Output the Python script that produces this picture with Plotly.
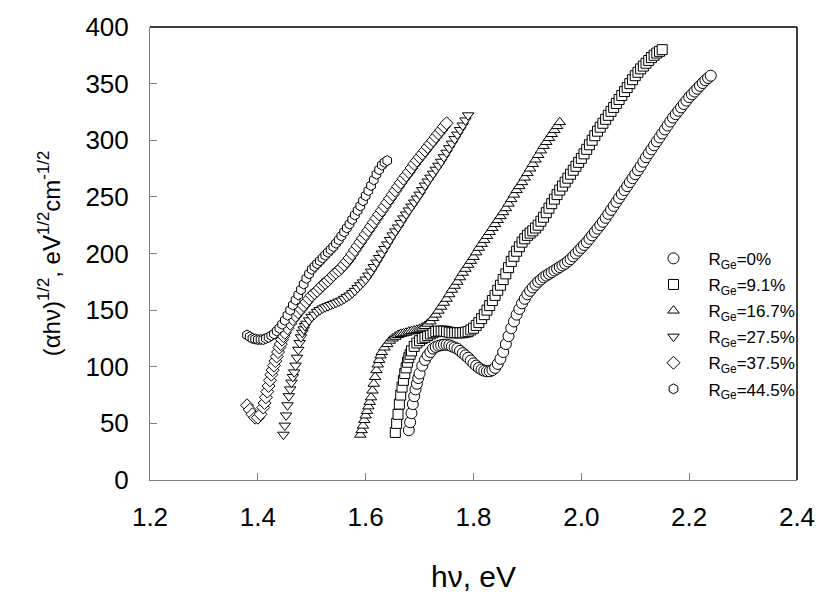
import plotly.graph_objects as go

# ---------------- data (hv in eV, (alpha*hv)^1/2) ----------------
pts_0 = [
    (1.680, 44), (1.6825, 51), (1.685, 59), (1.6875, 67), (1.690, 74), (1.6925, 80), (1.695, 85),
    (1.6975, 90), (1.700, 94), (1.705, 101), (1.710, 106), (1.715, 110), (1.720, 113), (1.725, 116),
    (1.730, 117.5), (1.735, 118.5), (1.740, 119), (1.745, 119.5), (1.750, 119.5), (1.755, 119),
    (1.760, 118), (1.765, 117), (1.770, 116), (1.775, 114), (1.780, 112), (1.785, 110), (1.790, 108),
    (1.795, 105.5), (1.800, 103), (1.805, 101), (1.810, 99), (1.815, 97.5), (1.820, 96.5),
    (1.825, 96), (1.830, 96), (1.835, 97), (1.840, 99), (1.845, 102.5), (1.850, 107), (1.855, 113),
    (1.860, 120), (1.865, 127), (1.870, 134), (1.875, 140), (1.880, 146), (1.885, 151), (1.890, 156),
    (1.895, 160), (1.900, 164), (1.905, 167), (1.910, 170), (1.915, 172.5), (1.920, 175),
    (1.925, 177), (1.930, 179), (1.935, 180.5), (1.940, 182), (1.945, 183.5), (1.950, 185),
    (1.955, 186.5), (1.960, 188), (1.965, 189.5), (1.970, 191), (1.975, 193), (1.980, 195),
    (1.985, 197.5), (1.990, 200), (1.995, 202.5), (2.000, 205), (2.005, 207.5), (2.010, 210),
    (2.015, 213), (2.020, 216), (2.025, 219), (2.030, 222), (2.035, 225), (2.040, 228),
    (2.045, 231.5), (2.050, 235), (2.055, 238.5), (2.060, 242), (2.065, 245.5), (2.070, 249),
    (2.075, 252.5), (2.080, 256), (2.085, 259.5), (2.090, 263), (2.095, 266.5), (2.100, 270),
    (2.105, 273.5), (2.110, 277), (2.115, 281), (2.120, 285), (2.125, 288.5), (2.130, 292),
    (2.135, 295.5), (2.140, 299), (2.145, 302.5), (2.150, 306), (2.155, 309.5), (2.160, 313),
    (2.165, 316.5), (2.170, 320), (2.175, 323), (2.180, 326), (2.185, 329), (2.190, 332),
    (2.195, 335), (2.200, 338), (2.205, 340.5), (2.210, 343), (2.215, 345.5), (2.220, 348),
    (2.225, 350.5), (2.230, 353), (2.235, 355), (2.240, 357),
]

pts_9 = [
    (1.655, 42), (1.6575, 50), (1.660, 58), (1.6625, 67), (1.665, 75), (1.6675, 82), (1.670, 88),
    (1.6725, 94), (1.675, 99), (1.6775, 104), (1.680, 108), (1.6825, 111), (1.685, 114),
    (1.690, 118), (1.695, 121), (1.700, 123), (1.705, 125), (1.710, 126), (1.715, 127.5),
    (1.720, 129), (1.725, 130), (1.730, 131), (1.735, 131.5), (1.740, 131.5), (1.745, 131.5),
    (1.750, 131), (1.755, 130.5), (1.760, 130), (1.765, 130), (1.770, 130), (1.775, 130),
    (1.780, 130), (1.785, 130.5), (1.790, 131), (1.795, 132.5), (1.800, 134), (1.805, 136.5),
    (1.810, 139), (1.815, 142.5), (1.820, 146), (1.825, 150), (1.830, 154), (1.835, 158.5),
    (1.840, 163), (1.845, 167.5), (1.850, 172), (1.855, 177), (1.860, 182), (1.865, 187.5),
    (1.870, 193), (1.875, 197.5), (1.880, 202), (1.885, 206), (1.890, 210), (1.895, 213),
    (1.900, 216), (1.905, 218), (1.910, 220), (1.915, 222.5), (1.920, 225), (1.925, 228.5),
    (1.930, 232), (1.935, 236), (1.940, 240), (1.945, 244), (1.950, 248), (1.955, 252),
    (1.960, 256), (1.965, 259.5), (1.970, 263), (1.975, 266.5), (1.980, 270), (1.985, 273.5),
    (1.990, 277), (1.995, 280.5), (2.000, 284), (2.005, 288), (2.010, 292), (2.015, 296),
    (2.020, 300), (2.025, 304), (2.030, 308), (2.035, 311.5), (2.040, 315), (2.045, 318.5),
    (2.050, 322), (2.055, 325.5), (2.060, 329), (2.065, 332.5), (2.070, 336), (2.075, 339.5),
    (2.080, 343), (2.085, 346.5), (2.090, 350), (2.095, 353.5), (2.100, 357), (2.105, 360),
    (2.110, 363), (2.115, 365.5), (2.120, 368), (2.125, 370.5), (2.130, 373), (2.135, 375),
    (2.140, 377), (2.145, 378.5), (2.150, 380),
]

pts_16 = [
    (1.590, 40), (1.5925, 44), (1.595, 48), (1.5975, 53), (1.600, 57), (1.6025, 61), (1.605, 65),
    (1.6075, 69), (1.610, 73), (1.6125, 79), (1.615, 85), (1.6175, 91), (1.620, 97), (1.6225, 102),
    (1.625, 106), (1.6275, 110), (1.630, 113), (1.635, 117), (1.640, 120), (1.645, 123),
    (1.650, 125), (1.655, 126.5), (1.660, 128), (1.665, 129), (1.670, 129.5), (1.675, 130),
    (1.680, 131), (1.685, 131.5), (1.690, 132), (1.695, 132.5), (1.700, 133.5), (1.705, 134.5),
    (1.710, 136), (1.715, 138), (1.720, 140), (1.725, 143), (1.730, 146), (1.735, 149.5),
    (1.740, 153), (1.745, 156.5), (1.750, 160), (1.755, 164), (1.760, 168), (1.765, 171.5),
    (1.770, 175), (1.775, 179), (1.780, 183), (1.785, 186.5), (1.790, 190), (1.795, 193.5),
    (1.800, 197), (1.805, 201), (1.810, 205), (1.815, 208.5), (1.820, 212), (1.825, 215.5),
    (1.830, 219), (1.835, 222.5), (1.840, 226), (1.845, 229.5), (1.850, 233), (1.855, 236.5),
    (1.860, 240), (1.865, 244), (1.870, 248), (1.875, 252), (1.880, 256), (1.885, 259.5),
    (1.890, 263), (1.895, 267), (1.900, 271), (1.905, 275), (1.910, 279), (1.915, 283),
    (1.920, 287), (1.925, 291), (1.930, 295), (1.935, 298.5), (1.940, 302), (1.945, 305.5),
    (1.950, 309), (1.955, 312.5), (1.960, 316),
]

pts_27 = [
    (1.4475, 40), (1.450, 48), (1.4525, 57), (1.455, 66), (1.4575, 74), (1.460, 80), (1.4625, 86),
    (1.465, 91), (1.4675, 95), (1.470, 101), (1.4725, 108), (1.475, 115), (1.4775, 121),
    (1.480, 126), (1.4825, 130), (1.485, 133), (1.4875, 136), (1.490, 138), (1.495, 141),
    (1.500, 144), (1.505, 146), (1.510, 148.5), (1.515, 150), (1.520, 151.5), (1.525, 152.5),
    (1.530, 153.5), (1.535, 154.5), (1.540, 155.5), (1.545, 156.5), (1.550, 157.5), (1.555, 158.5),
    (1.560, 160), (1.565, 161.5), (1.570, 163), (1.575, 165), (1.580, 167), (1.585, 169.5),
    (1.590, 172), (1.595, 174.5), (1.600, 177), (1.605, 180.5), (1.610, 184), (1.615, 188),
    (1.620, 192), (1.625, 196), (1.630, 200), (1.635, 204), (1.640, 208), (1.645, 212),
    (1.650, 216), (1.655, 219.5), (1.660, 223), (1.665, 227), (1.670, 231), (1.675, 234.5),
    (1.680, 238), (1.685, 241.5), (1.690, 245), (1.695, 248.5), (1.700, 252), (1.705, 256),
    (1.710, 260), (1.715, 263.5), (1.720, 267), (1.725, 270.5), (1.730, 274), (1.735, 277.5),
    (1.740, 281), (1.745, 285), (1.750, 289), (1.755, 293), (1.760, 297), (1.765, 301),
    (1.770, 305), (1.775, 309), (1.780, 313), (1.785, 317.5), (1.790, 322),
]

pts_37 = [
    (1.380, 66), (1.385, 62), (1.390, 58), (1.395, 55), (1.400, 55), (1.405, 58), (1.410, 64),
    (1.4125, 68), (1.415, 73), (1.4175, 78), (1.420, 83), (1.4225, 88), (1.425, 93), (1.4275, 97),
    (1.430, 101), (1.4325, 105), (1.435, 109), (1.4375, 113), (1.440, 117), (1.4425, 120),
    (1.445, 124), (1.4475, 127), (1.450, 130), (1.455, 134), (1.460, 138), (1.465, 142),
    (1.470, 145), (1.475, 148), (1.480, 151), (1.485, 154), (1.490, 157), (1.495, 160),
    (1.500, 163), (1.505, 165), (1.510, 167), (1.515, 169.5), (1.520, 172), (1.525, 174),
    (1.530, 176), (1.535, 178.5), (1.540, 181), (1.545, 183), (1.550, 185), (1.555, 187.5),
    (1.560, 190), (1.565, 193), (1.570, 196), (1.575, 199.5), (1.580, 203), (1.585, 206.5),
    (1.590, 210), (1.595, 213.5), (1.600, 217), (1.605, 220.5), (1.610, 224), (1.615, 227.5),
    (1.620, 231), (1.625, 234.5), (1.630, 238), (1.635, 241.5), (1.640, 245), (1.645, 248.5),
    (1.650, 252), (1.655, 255.5), (1.660, 259), (1.665, 262.5), (1.670, 266), (1.675, 269),
    (1.680, 272), (1.685, 275.5), (1.690, 279), (1.695, 282), (1.700, 285), (1.705, 288),
    (1.710, 291), (1.715, 294), (1.720, 297), (1.725, 300), (1.730, 303), (1.735, 306),
    (1.740, 309), (1.745, 312), (1.750, 315),
]

pts_44 = [
    (1.380, 128), (1.385, 126.5), (1.390, 125), (1.395, 124.5), (1.400, 124), (1.405, 124),
    (1.410, 124), (1.415, 125), (1.420, 126), (1.425, 127.5), (1.430, 129), (1.435, 131.5),
    (1.440, 134), (1.445, 137.5), (1.450, 141), (1.455, 145.5), (1.460, 150), (1.465, 154.5),
    (1.470, 159), (1.475, 163.5), (1.480, 168), (1.485, 173), (1.490, 178), (1.495, 182),
    (1.500, 186), (1.505, 188.5), (1.510, 191), (1.515, 193.5), (1.520, 196), (1.525, 198.5),
    (1.530, 201), (1.535, 203.5), (1.540, 206), (1.545, 209), (1.550, 212), (1.555, 215.5),
    (1.560, 219), (1.565, 222.5), (1.570, 226), (1.575, 230), (1.580, 234), (1.585, 238),
    (1.590, 242), (1.595, 246.5), (1.600, 251), (1.605, 255.5), (1.610, 260), (1.615, 265),
    (1.620, 270), (1.625, 274), (1.630, 278), (1.635, 280.5), (1.640, 282),
]

series_names = ["R<sub>Ge</sub>=0%", "R<sub>Ge</sub>=9.1%", "R<sub>Ge</sub>=16.7%",
                "R<sub>Ge</sub>=27.5%", "R<sub>Ge</sub>=37.5%", "R<sub>Ge</sub>=44.5%"]
x_ticks = [1.2, 1.4, 1.6, 1.8, 2.0, 2.2, 2.4]
y_ticks = [0, 50, 100, 150, 200, 250, 300, 350, 400]

# ---------------- styling ----------------
symbols = ["circle", "square", "triangle-up", "triangle-down", "diamond", "hexagon"]
sizes = [11, 10, 10, 10, 10, 10]
all_pts = [pts_0, pts_9, pts_16, pts_27, pts_37, pts_44]

fig = go.Figure()
for i, (name, sym, sz, pts) in enumerate(zip(series_names, symbols, sizes, all_pts)):
    fig.add_trace(go.Scatter(
        x=[p[0] for p in pts], y=[p[1] for p in pts], mode="markers", name=name,
        legendgroup="g%d" % i,
        marker=dict(symbol=sym, size=sz, color="white",
                    line=dict(color="black", width=1)),
    ))

font_main = "Liberation Sans, Arial, sans-serif"
fig.update_layout(
    width=827, height=600,
    margin=dict(l=150, r=22, t=24, b=120),
    paper_bgcolor="white", plot_bgcolor="white",
    font=dict(family=font_main, color="black"),
    showlegend=True,
    legend=dict(x=0.755, y=0.528, xanchor="left", yanchor="top",
                font=dict(size=17, family=font_main), bgcolor="rgba(0,0,0,0)",
                tracegroupgap=1, itemwidth=60),
)
fig.update_xaxes(
    range=[1.2, 2.4], tickvals=x_ticks, tickformat=".1f",
    showgrid=False, zeroline=False, showline=True, linecolor="#808080", linewidth=1,
    ticks="inside", ticklen=7, tickcolor="#808080",
    tickfont=dict(size=26, family=font_main), ticklabelstandoff=14,
    title=dict(text="h\u03bd, eV", font=dict(size=30, family=font_main), standoff=34),
)
fig.update_yaxes(
    range=[0, 400], tickvals=y_ticks,
    showgrid=False, zeroline=False, showline=True, linecolor="#808080", linewidth=1,
    ticks="inside", ticklen=7, tickcolor="#808080",
    tickfont=dict(size=26, family=font_main), ticklabelstandoff=15,
    title=dict(text="(\u03b1h\u03bd)<sup>1/2</sup>, eV<sup>1/2</sup>cm<sup>-1/2</sup>",
               font=dict(size=24, family=font_main), standoff=18),
)
# black top and right frame lines
fig.add_shape(type="line", xref="paper", yref="paper", x0=0, x1=1, y0=1, y1=1,
              line=dict(color="black", width=1.5))
fig.add_shape(type="line", xref="paper", yref="paper", x0=1, x1=1, y0=0, y1=1,
              line=dict(color="black", width=1.5))

fig.write_html("out.html")
